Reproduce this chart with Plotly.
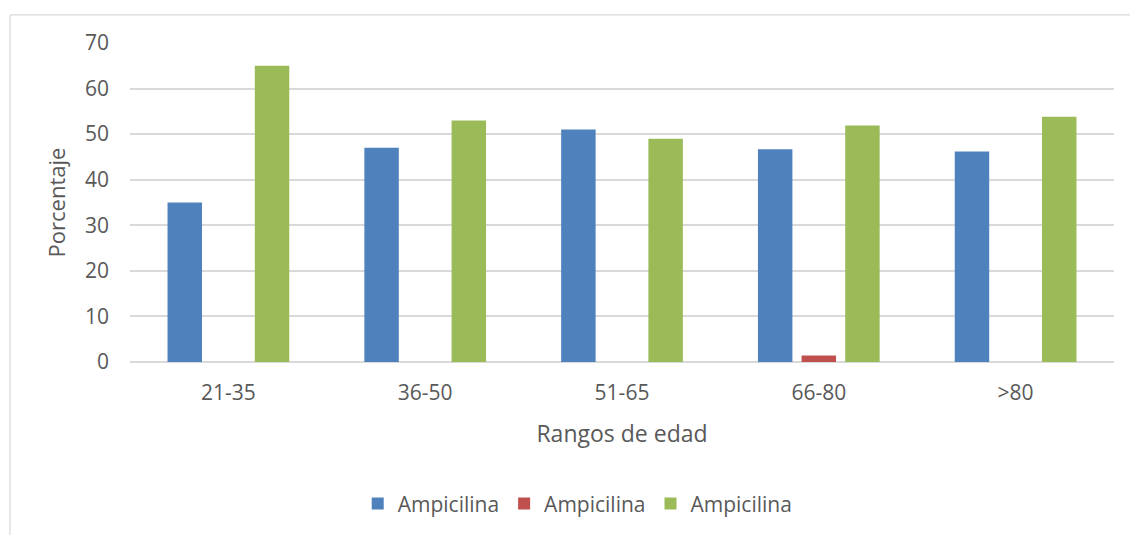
import plotly.graph_objects as go

# Age ranges and percentage per series
categories = ["21-35", "36-50", "51-65", "66-80", ">80"]
series_names = ["Ampicilina", "Ampicilina", "Ampicilina"]
blue_values = [35.0, 47.0, 51.0, 46.7, 46.2]
red_values = [0, 0, 0, 1.4, 0]
green_values = [65.0, 53.0, 49.0, 51.9, 53.8]
series_colors = ["#4F81BD", "#C0504D", "#9BBB59"]
y_ticks = [0, 10, 20, 30, 40, 50, 60, 70]

FONT = "Open Sans"
TEXT = "#595959"
GRID = "#D9D9D9"

fig = go.Figure()
for name, vals, col in zip(series_names, [blue_values, red_values, green_values], series_colors):
    fig.add_trace(go.Bar(
        x=categories, y=vals, name=name,
        marker=dict(color=col, line=dict(width=0)),
    ))

fig.update_layout(
    width=1130, height=535,
    margin=dict(l=130, r=16, t=43, b=172),
    paper_bgcolor="white", plot_bgcolor="white",
    barmode="group", bargap=0.335, bargroupgap=0.21,
    font=dict(family=FONT, size=21, color=TEXT),
    showlegend=True,
    legend=dict(
        orientation="h", x=0.455, xanchor="center", y=-0.44, yanchor="middle",
        font=dict(family=FONT, size=21, color=TEXT),
        itemwidth=30, tracegroupgap=0,
    ),
    xaxis=dict(
        showgrid=False, zeroline=False, showline=False,
        tickfont=dict(family=FONT, size=21, color=TEXT),
        ticklabelstandoff=16,
        title=dict(text="Rangos de edad", font=dict(family=FONT, size=23, color=TEXT), standoff=20),
    ),
    yaxis=dict(
        range=[0, 70], tickvals=y_ticks,
        showgrid=True, gridcolor=GRID, gridwidth=1.5,
        zeroline=True, zerolinecolor=GRID, zerolinewidth=1.5,
        showline=False,
        tickfont=dict(family=FONT, size=21, color=TEXT),
        ticklabelstandoff=20,
        title=dict(text="Porcentaje", font=dict(family=FONT, size=22, color=TEXT), standoff=13),
    ),
    shapes=[
        # chart frame: top and left edges
        dict(type="line", xref="paper", yref="paper",
             x0=-0.122, x1=1.1, y0=1.088, y1=1.088,
             line=dict(color=GRID, width=1.2)),
        dict(type="line", xref="paper", yref="paper",
             x0=-0.122, x1=-0.122, y0=1.088, y1=-0.6,
             line=dict(color=GRID, width=1.2)),
    ],
)

fig.write_html("out.html")
